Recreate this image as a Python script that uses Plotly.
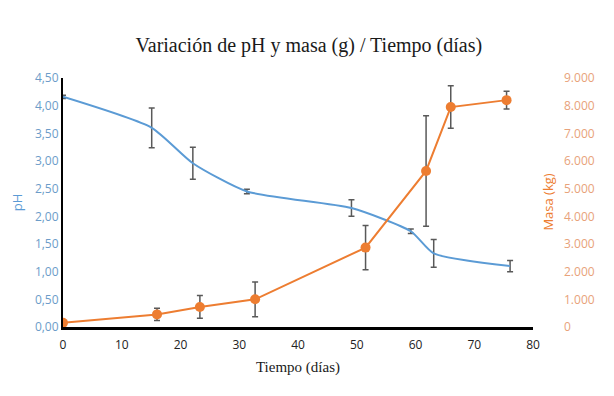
import plotly.graph_objects as go

# pH series
ph_days = [0, 15.1, 22.1, 31.3, 49.1, 59.2, 63.1, 76.1]
ph_values = [4.16, 3.60, 2.96, 2.45, 2.15, 1.73, 1.33, 1.10]
ph_err = [0.03, 0.36, 0.29, 0.04, 0.15, 0.04, 0.25, 0.10]

# Mass series
mass_days = [0, 16.0, 23.3, 32.7, 51.5, 61.8, 66.0, 75.5]
mass_values = [150, 455, 725, 1000, 2870, 5640, 7950, 8200]
mass_err = [0, 220, 410, 630, 800, 2000, 770, 320]

left_ticks = [0, 0.5, 1, 1.5, 2, 2.5, 3, 3.5, 4, 4.5]
right_ticks = [0, 1000, 2000, 3000, 4000, 5000, 6000, 7000, 8000, 9000]
x_ticks = [0, 10, 20, 30, 40, 50, 60, 70, 80]

BLUE = "#5B9BD5"
ORANGE = "#ED7D31"
ERR = "#595959"

fig = go.Figure()
fig.add_trace(go.Scatter(
    x=ph_days, y=ph_values, mode="lines", name="pH",
    line=dict(color=BLUE, width=2, shape="spline", smoothing=0.6),
    error_y=dict(type="data", array=ph_err, visible=True, color=ERR, thickness=1.5, width=3),
    yaxis="y"))
fig.add_trace(go.Scatter(
    x=mass_days, y=mass_values, mode="lines+markers", name="Masa",
    line=dict(color=ORANGE, width=2),
    marker=dict(color=ORANGE, size=10),
    error_y=dict(type="data", array=mass_err, visible=True, color=ERR, thickness=1.5, width=3),
    yaxis="y2"))

fig.update_layout(
    width=614, height=396,
    margin=dict(l=55, r=89, t=70, b=77),
    paper_bgcolor="white", plot_bgcolor="white",
    showlegend=False,
    separators=",.",
    title=dict(text="Variación de pH y masa (g) / Tiempo (días)",
               font=dict(family="Liberation Serif", size=20, color="#1a1a1a"),
               x=0.49, xanchor="center", y=0.907, yanchor="middle"),
    xaxis=dict(range=[0, 80], tickvals=x_ticks, showgrid=False, zeroline=False,
               showline=True, linecolor="black", linewidth=2.5, ticks="", automargin=False,
               ticklabelstandoff=5,
               tickfont=dict(family="Open Sans", size=12, color="#222222"),
               title=dict(text="Tiempo (días)", font=dict(family="Liberation Serif", size=15, color="#1a1a1a"),
                          standoff=10)),
    yaxis=dict(range=[0, 4.5], tickvals=left_ticks, tickformat=".2f", showgrid=False,
               zeroline=False, showline=True, linecolor="black", linewidth=2, ticks="",
               automargin=False,
               tickfont=dict(family="Open Sans", size=12, color="#6C9CC9"),
               title=dict(text="pH", font=dict(family="Open Sans", size=13, color=BLUE), standoff=12)),
    yaxis2=dict(range=[0, 9000], tickvals=right_ticks, tickformat=",d", overlaying="y",
                side="right", showgrid=False, zeroline=False, showline=False, ticks="",
                ticklabelstandoff=30, automargin=False,
                tickfont=dict(family="Open Sans", size=12, color="#E8A27A")),
    annotations=[dict(text="Masa (kg)", x=1.03, xref="paper", y=0.5, yref="paper",
                      textangle=-90, showarrow=False, xanchor="center", yanchor="middle",
                      font=dict(family="Open Sans", size=13, color=ORANGE))],
)

fig.write_html("out.html")
